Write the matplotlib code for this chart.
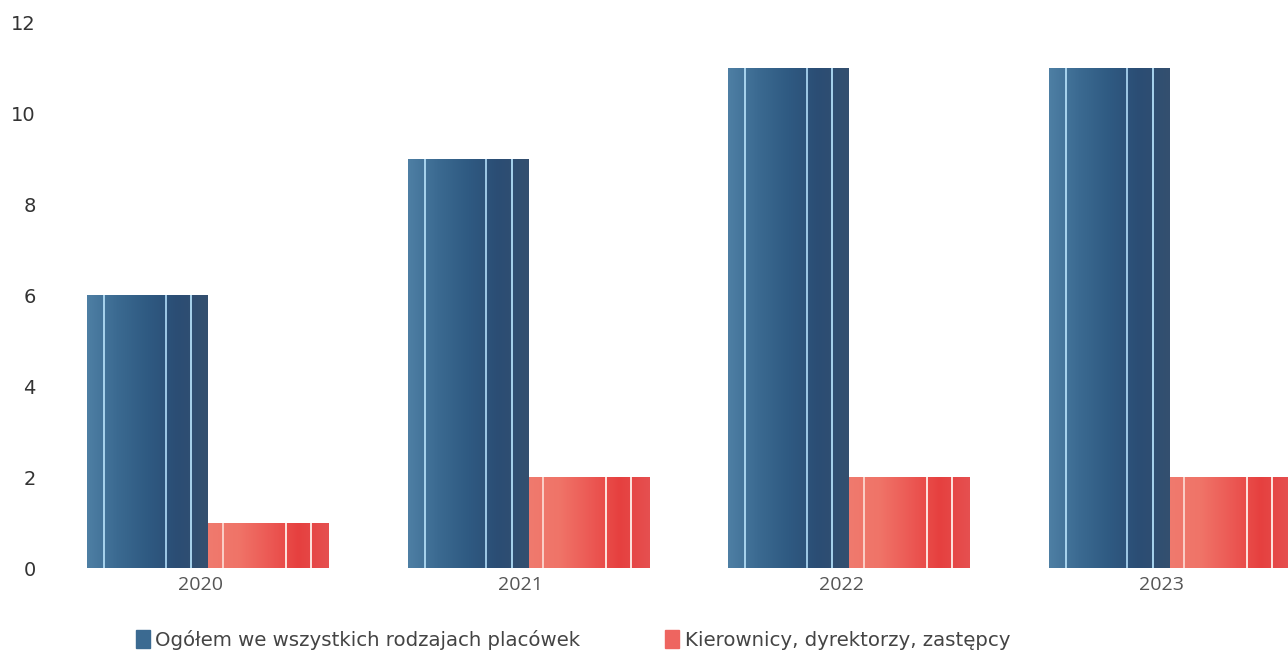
import matplotlib
matplotlib.use("Agg")
import matplotlib.pyplot as plt
import numpy as np
from matplotlib.colors import LinearSegmentedColormap
from matplotlib.patches import Patch

years = ["2020", "2021", "2022", "2023"]
ogolem = [6, 9, 11, 11]
kierownicy = [1, 2, 2, 2]
labels = ["Ogółem we wszystkich rodzajach placówek", "Kierownicy, dyrektorzy, zastępcy"]

blue_cmap = LinearSegmentedColormap.from_list("b", ["#4e7fa4", "#3b6a91", "#2f5a82", "#2b4d74", "#34506f"])
red_cmap = LinearSegmentedColormap.from_list("r", ["#ef7a6e", "#f07468", "#ec5a55", "#e6403f", "#e55050"])


def shade(ax, bars, cmap, lines):
    # gradient fill clipped to each bar plus thin light stripes
    grad = np.linspace(0, 1, 256).reshape(1, -1)
    for b in bars:
        x0, y0 = b.get_x(), b.get_y()
        w, h = b.get_width(), b.get_height()
        im = ax.imshow(grad, cmap=cmap, aspect="auto", extent=[x0, x0 + w, y0, y0 + h],
                       zorder=2, interpolation="bicubic")
        im.set_clip_path(b)
        for f, c in lines:
            ax.vlines(x0 + f * w, y0, y0 + h, color=c, lw=1.4, zorder=3)


fig = plt.figure(figsize=(12.88, 6.56), dpi=100)
ax = fig.add_axes([0.031, 0.134, 0.969, 0.832])

x = np.arange(len(years))
w = 0.377
b1 = ax.bar(x - w / 2, ogolem, w, color="#34618a", zorder=1)
b2 = ax.bar(x + w / 2, kierownicy, w, color="#eb5a55", zorder=1)
shade(ax, b1, blue_cmap, [(0.14, "#a9d4ee"), (0.65, "#9fc9e6"), (0.86, "#a9d4ee")])
shade(ax, b2, red_cmap, [(0.12, "#fbd0c8"), (0.64, "#fde4df"), (0.85, "#fde4df")])

ax.set_xlim(-0.525, 3.369)
ax.set_ylim(0, 12)
ax.set_yticks(range(0, 13, 2))
ax.set_xticks(x - 0.025)
ax.set_xticklabels(years, fontsize=14, color="#555555", family="Open Sans")
ax.tick_params(axis="y", length=0, pad=3, labelsize=14, labelcolor="#333333")
ax.tick_params(axis="x", length=0, pad=6)
for s in ax.spines.values():
    s.set_visible(False)

handles = [Patch(color="#3b6a91"), Patch(color="#ee6560")]
fig.legend(handles, labels, loc="lower center", ncol=2, frameon=False,
           bbox_to_anchor=(0.445, -0.018), handlelength=0.7, handleheight=1.0,
           handletextpad=0.3, columnspacing=4.3,
           prop={"family": "DejaVu Sans", "size": 14.2}, labelcolor="#444444")

fig.savefig("out.png", dpi=100)
